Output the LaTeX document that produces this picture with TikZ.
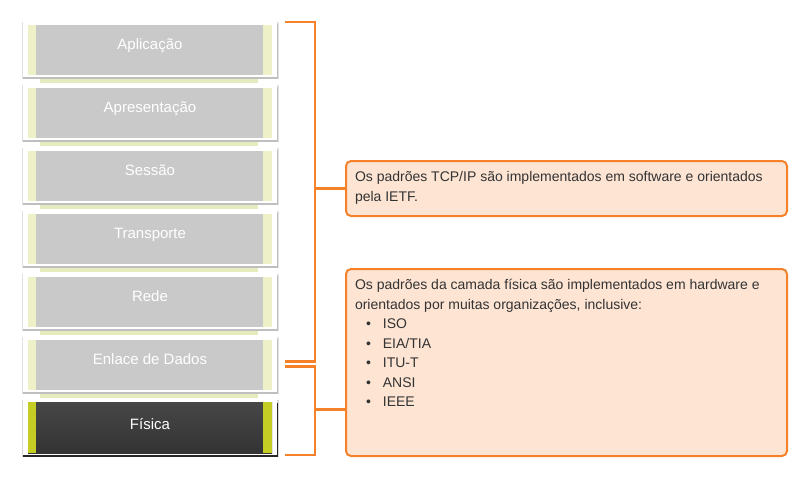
\documentclass[tikz,border=0pt]{standalone}
\usepackage{fontspec}
\setmainfont{Liberation Sans}

\definecolor{bracketorange}{HTML}{F5822A}
\definecolor{boxfill}{HTML}{FDE4D3}
\definecolor{textgray}{HTML}{333333}
\definecolor{layergray}{HTML}{C9C9C9}
\definecolor{stripyellow}{HTML}{EEF1C7}
\definecolor{tabyellow}{HTML}{E6EBBE}
\definecolor{stripolive}{HTML}{C3CD23}

\newcommand{\bulletline}[1]{\hspace*{11pt}\textbullet\hspace{12pt}#1}

\begin{document}
\begin{tikzpicture}[x=1pt,y=-1pt,
	card/.style={fill=white, minimum width=254pt, minimum height=55pt, inner sep=0pt,
		text=white, font=\fontsize{15}{17}\selectfont, text height=10pt, text depth=10pt,
		path picture={
			\fill[layergray] ([xshift=5pt,yshift=-2.5pt]path picture bounding box.north west) rectangle ([xshift=-5pt,yshift=2.5pt]path picture bounding box.south east);
			\fill[stripyellow] ([xshift=5pt,yshift=-2.5pt]path picture bounding box.north west) rectangle ([xshift=13pt,yshift=2.5pt]path picture bounding box.south west);
			\fill[stripyellow] ([xshift=-14pt,yshift=-2.5pt]path picture bounding box.north east) rectangle ([xshift=-5pt,yshift=2.5pt]path picture bounding box.south east);
		}},
	darkcard/.style={card, text depth=6pt,
		path picture={
			\shade[top color=black!72, bottom color=black!80] ([xshift=5pt,yshift=-2pt]path picture bounding box.north west) rectangle ([xshift=-5pt,yshift=2pt]path picture bounding box.south east);
			\fill[stripolive] ([xshift=5pt,yshift=-2pt]path picture bounding box.north west) rectangle ([xshift=13pt,yshift=2pt]path picture bounding box.south west);
			\fill[stripolive] ([xshift=-14pt,yshift=-2pt]path picture bounding box.north east) rectangle ([xshift=-5pt,yshift=2pt]path picture bounding box.south east);
		}},
	infobox/.style={draw=bracketorange, line width=2pt, fill=boxfill, rounded corners=5pt,
		anchor=north west, inner xsep=9pt, inner ysep=10.5pt, text=textgray,
		font=\fontsize{14}{19.5}\selectfont},
	bracket/.style={draw=bracketorange, line width=2.5pt}]

	\useasboundingbox (0,0) rectangle (809,477);

	% camadas
	\foreach \name/\txt [count=\i from 0] in {app/Aplicação,apr/Apresentação,ses/Sessão,tra/Transporte,red/Rede,enl/Enlace de Dados}
	{
		\pgfmathsetmacro{\top}{22+63*\i}
		\fill[tabyellow] (40,\top+50) rectangle (258,\top+61);
		\fill[black!12] (21.5,\top-0.5) rectangle (278.5,\top+57);
		\fill[black!25] (23,\top+2) rectangle (278,\top+56.5);
		\node[card] (\name) at (150,\top+27.5) {\txt};
	}
	\fill[black!15] (21.5,399.5) rectangle (278.5,457);
	\fill[black!85] (23,403) rectangle (278,456.5);
	\node[darkcard] (fis) at (150,427.5) {Física};

	% caixas de texto
	\node[infobox] (tcp) at (345,160) {\begin{minipage}[t][34pt][t]{423pt}\raggedright
		Os padrões TCP/IP são implementados em software e orientados pela IETF.\end{minipage}};
	\node[infobox] (hw) at (345,268) {\begin{minipage}[t][166pt][t]{423pt}\raggedright
		Os padrões da camada física são implementados em hardware e orientados por muitas organizações, inclusive:\\
		\bulletline{ISO}\\
		\bulletline{EIA/TIA}\\
		\bulletline{ITU-T}\\
		\bulletline{ANSI}\\
		\bulletline{IEEE}\end{minipage}};

	% chaves
	\draw[bracket] ([xshift=8pt]app.north east) -| ([xshift=38pt,yshift=3pt]enl.east) -- ([xshift=8pt,yshift=3pt]enl.east);
	\draw[bracket] (tcp.west) -- ++(-31pt,0);
	\draw[bracket] ([xshift=8pt,yshift=-2pt]enl.east) -| ([xshift=38pt]fis.south east) -- ([xshift=8pt]fis.south east);
	\draw[bracket] ([yshift=-47pt]hw.west) -- ++(-31pt,0);
\end{tikzpicture}
\end{document}
